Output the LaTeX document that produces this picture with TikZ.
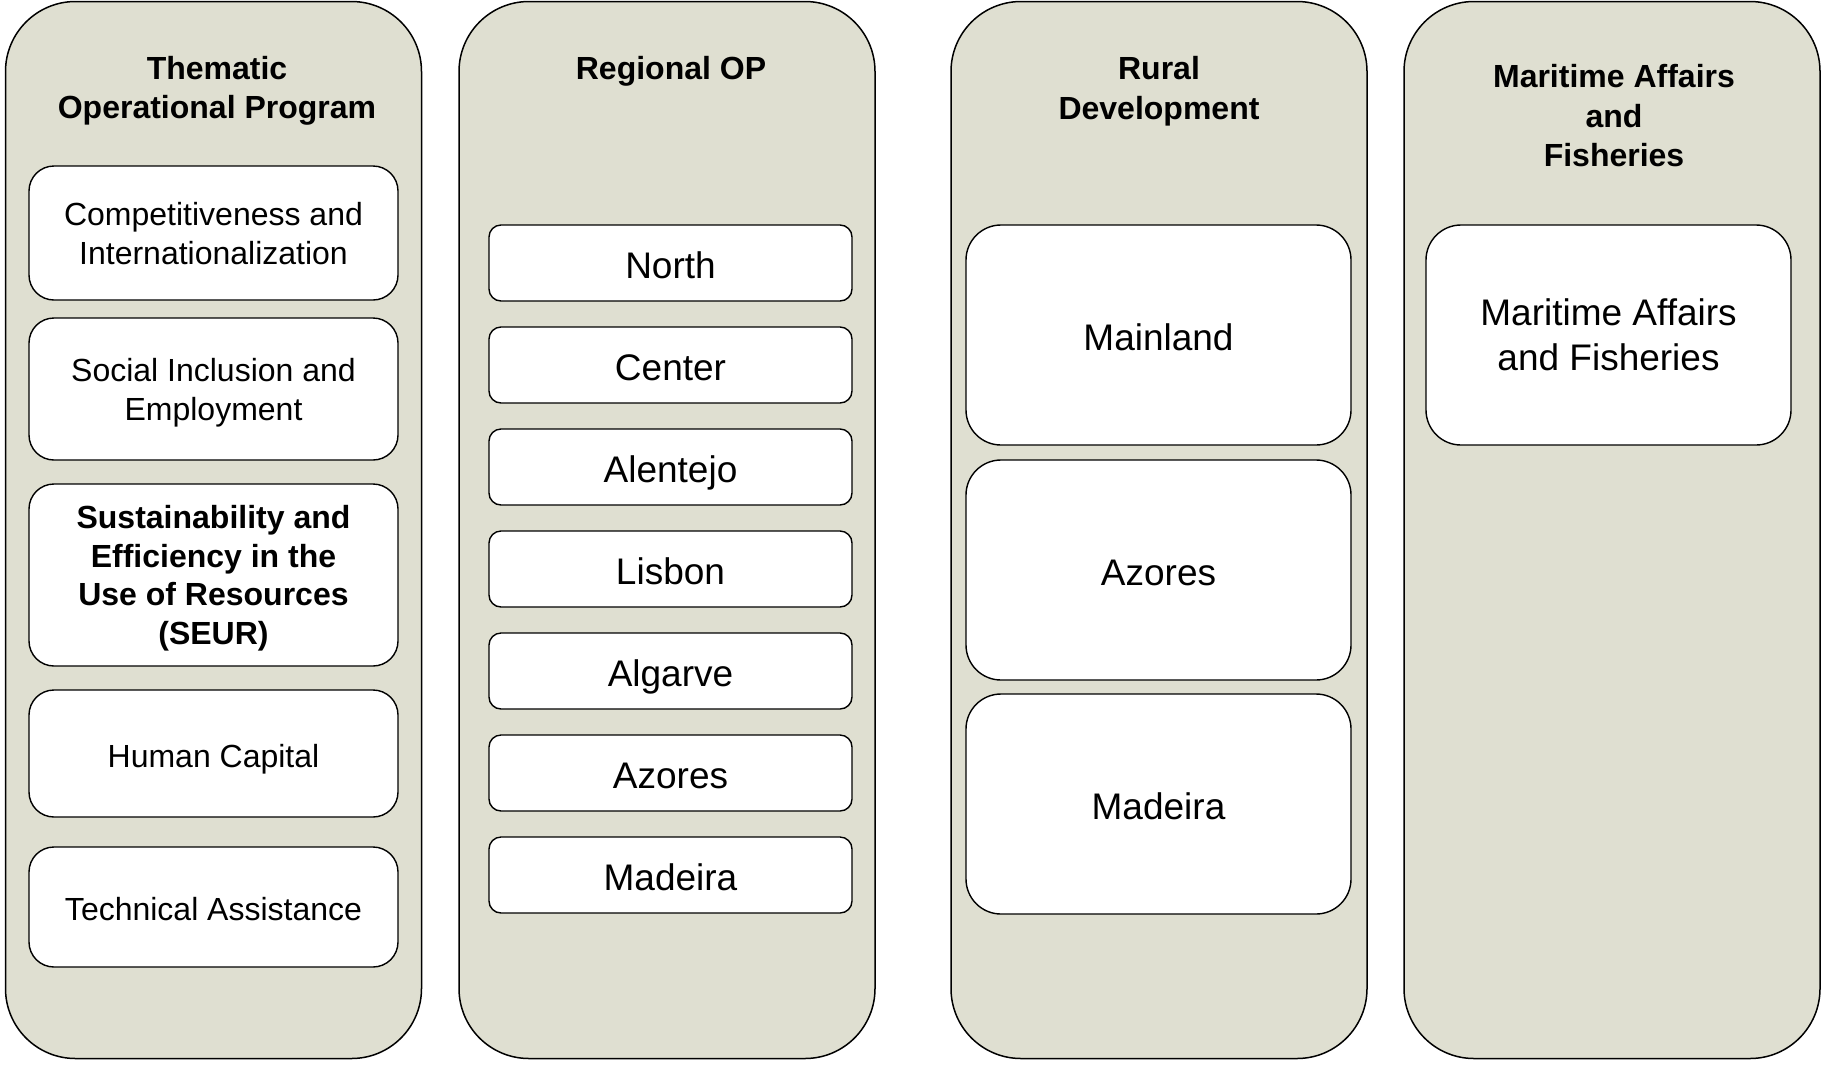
\documentclass[tikz,border=0pt]{standalone}
\usepackage{fontspec}
\setmainfont{Liberation Sans}
\definecolor{colbg}{RGB}{223,223,209}
\begin{document}
\begin{tikzpicture}[x=1pt,y=-1pt,
  column/.style={draw=black, line width=1.5pt, fill=colbg, rounded corners=70pt,
    minimum width=416pt, minimum height=1057pt, inner sep=0pt},
  ttl/.style={font=\fontsize{32}{39.5}\selectfont\bfseries, align=center, inner sep=0pt},
  tbox/.style={draw=black, line width=1.4pt, fill=white, rounded corners=25pt,
    minimum width=369pt, align=center, inner sep=0pt, text depth=-3.5pt,
    font=\fontsize{32}{39}\selectfont},
  rbox/.style={draw=black, line width=1.4pt, fill=white, rounded corners=12pt,
    minimum width=363pt, minimum height=76pt, inner sep=0pt,
    text height=30.5pt, text depth=0pt,
    font=\fontsize{37}{45}\selectfont},
  dbox/.style={draw=black, line width=1.4pt, fill=white, rounded corners=35pt,
    minimum width=385pt, minimum height=220pt, inner sep=0pt, align=center,
    text depth=-3.5pt, font=\fontsize{37}{45}\selectfont},
  oneA/.style={text height=30.5pt, text depth=0pt},
  oneB/.style={text height=27pt, text depth=0pt}
]
\useasboundingbox (0,0) rectangle (1825,1066);
\fill[white] (0,0) rectangle (1825,1066);

% columns
\node[column] (c1) at (213.5,530) {};
\node[column] (c2) at (667,530) {};
\node[column] (c3) at (1159,530) {};
\node[column] (c4) at (1612,530) {};

% titles
\node[ttl] (t1) at (217,91) {Thematic\\Operational Program};
\node[ttl] (t2) at (671,71.7) {Regional OP};
\node[ttl] (t3) at (1159,91) {Rural\\Development};
\node[ttl] (t4) at (1614,116) {Maritime Affairs\\and\\Fisheries};

% thematic boxes
\node[tbox, minimum height=134pt] (b1) at (213.5,233) {Competitiveness and\\Internationalization};
\node[tbox, minimum height=142pt] (b2) at (213.5,389) {Social Inclusion and\\Employment};
\node[tbox, minimum height=182pt, font=\fontsize{32}{38.5}\selectfont\bfseries] (b3) at (213.5,575) {Sustainability and\\Efficiency in the\\Use of Resources\\(SEUR)};
\node[tbox, oneB, minimum height=127pt] (b4) at (213.5,753.5) {Human Capital};
\node[tbox, oneB, minimum height=120pt] (b5) at (213.5,907) {Technical Assistance};

% regional boxes
\node[rbox] (r1) at (670.5,263) {North};
\node[rbox] (r2) at (670.5,365) {Center};
\node[rbox] (r3) at (670.5,467) {Alentejo};
\node[rbox] (r4) at (670.5,569) {Lisbon};
\node[rbox] (r5) at (670.5,671) {Algarve};
\node[rbox] (r6) at (670.5,773) {Azores};
\node[rbox] (r7) at (670.5,875) {Madeira};

% rural boxes
\node[dbox, oneA] (d1) at (1158.5,335) {Mainland};
\node[dbox, oneA] (d2) at (1158.5,570) {Azores};
\node[dbox, oneA] (d3) at (1158.5,804) {Madeira};

% maritime box
\node[dbox, minimum width=365pt] (m1) at (1608.5,335) {Maritime Affairs\\and Fisheries};
\end{tikzpicture}
\end{document}
